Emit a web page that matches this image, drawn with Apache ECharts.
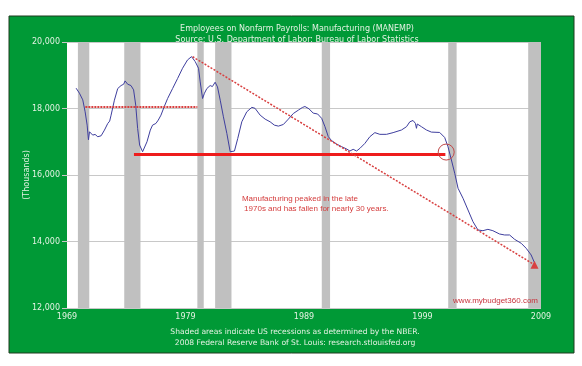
<!DOCTYPE html>
<html><head><meta charset="utf-8">
<script src="https://cdn.jsdelivr.net/npm/echarts@6/dist/echarts.min.js"></script>
<style>html,body{margin:0;padding:0;background:#fff}#c{width:582px;height:366px}</style>
</head><body><div id="c"></div>
<script>
// ---- data ----
const years = [1969.77,1970.05,1970.33,1970.53,1970.70,1970.81,1970.90,1971.00,1971.17,1971.37,1971.60,1971.88,1972.16,1972.44,1972.60,1972.72,1973.00,1973.28,1973.56,1973.78,1973.90,1974.12,1974.40,1974.62,1974.80,1974.96,1975.13,1975.38,1975.50,1975.75,1976.03,1976.22,1976.50,1976.70,1976.93,1977.20,1977.49,1977.91,1978.33,1978.75,1979.17,1979.51,1979.82,1980.10,1980.24,1980.44,1980.60,1980.80,1981.08,1981.27,1981.50,1981.70,1981.93,1982.20,1982.49,1982.77,1982.91,1983.13,1983.41,1983.75,1984.17,1984.60,1984.87,1985.30,1985.72,1986.14,1986.50,1986.84,1987.26,1987.68,1988.10,1988.52,1988.86,1989.08,1989.42,1989.78,1989.92,1990.15,1990.25,1990.49,1990.77,1991.05,1991.33,1991.75,1992.17,1992.60,1992.87,1993.15,1993.44,1993.72,1994.14,1994.56,1994.98,1995.40,1995.96,1996.52,1997.23,1997.65,1997.93,1998.20,1998.40,1998.49,1998.56,1998.91,1999.33,1999.75,2000.45,2000.87,2001.15,2001.44,2001.72,2002.00,2002.42,2002.84,2003.26,2003.68,2004.10,2004.52,2004.94,2005.50,2005.93,2006.35,2006.77,2007.33,2007.75,2008.17,2008.45];
const employees = [18610,18460,18260,17900,17500,17060,17300,17260,17200,17220,17150,17180,17350,17550,17620,17800,18250,18600,18690,18730,18830,18730,18690,18560,18100,17400,16900,16700,16720,17000,17350,17500,17550,17650,17800,18050,18300,18600,18900,19210,19460,19560,19410,19210,18800,18300,18460,18600,18690,18660,18790,18650,18250,17750,17250,16700,16680,16720,17100,17600,17900,18035,18005,17800,17680,17600,17500,17470,17520,17680,17850,17950,18030,18060,17990,17860,17874,17835,17874,17704,17453,17153,17033,16932,16852,16782,16722,16772,16722,16802,16952,17153,17274,17223,17223,17274,17354,17453,17600,17640,17554,17404,17534,17453,17354,17290,17280,17130,16852,16451,16051,15600,15299,14947,14596,14346,14325,14366,14325,14226,14196,14196,14066,13946,13795,13594,13362];
const recessionStart = [1969.92,1973.83,1980.00,1981.50,1990.50,2001.17,2007.92];
const recessionEnd   = [1970.88,1975.20,1980.54,1982.88,1991.20,2001.88,2009.00];
const xTicks = [1969,1979,1989,1999,2009];
const yTicks = [12000,14000,16000,18000,20000];
const peakStart = [1979.6,19558];
const trendEnd = [2008.45,13300];
const dottedLevel = {from:1970.55,to:1980.0,value:18045};
const floorLevel = {from:1974.65,to:2000.93,value:16620};
const circlePoint = [2001.0,16690];
const notePoint = [1983.8,15420];
const noteText = 'Manufacturing peaked in the late\n 1970s and has fallen for nearly 30 years.';
const titleLines = ['Employees on Nonfarm Payrolls: Manufacturing (MANEMP)','Source: U.S. Department of Labor: Bureau of Labor Statistics'];
const footLines = ['Shaded areas indicate US recessions as determined by the NBER.','2008 Federal Reserve Bank of St. Louis: research.stlouisfed.org'];
const yAxisName = '(Thousands)';
const watermark = 'www.mybudget360.com';

const seriesData = years.map((y,i)=>[y,employees[i]]);
const lightText = '#e3f2e3';
const chart = echarts.init(document.getElementById('c'), null, {renderer:'canvas'});
chart.setOption({
  animation:false,
  backgroundColor:'#fff',
  graphic:[
    {type:'rect', z:-10, shape:{x:9,y:16,width:565,height:337}, style:{fill:'#009936', stroke:'#1e3a1e', lineWidth:1}},
    {type:'text', z:10, right:44, top:297, style:{text:watermark, fill:'#c8323c', font:'8px "Liberation Sans", Arial, sans-serif'}}
  ],
  title:[
    {text:titleLines[0]+'\n'+titleLines[1], left:292, top:18, textAlign:'center',
     textStyle:{color:lightText, fontSize:8, fontWeight:'normal', fontFamily:'DejaVu Sans', lineHeight:11}},
    {text:footLines[0]+'\n'+footLines[1], left:290, top:322, textAlign:'center',
     textStyle:{color:lightText, fontSize:7.6, fontWeight:'normal', fontFamily:'DejaVu Sans', lineHeight:11}}
  ],
  grid:{left:67, right:41, top:42, bottom:58, show:true, backgroundColor:'#fff', borderWidth:0},
  xAxis:{type:'value', min:1969, max:2009, interval:10,
    axisLine:{show:false}, axisTick:{show:false}, splitLine:{show:false},
    axisLabel:{color:lightText, fontSize:8, fontFamily:'DejaVu Sans', margin:5,
      formatter:v=>xTicks.includes(v)?String(v):''}},
  yAxis:{type:'value', min:12000, max:20000, interval:2000,
    name:yAxisName, nameLocation:'middle', nameGap:40, nameRotate:90, nameMoveOverlap:false,
    nameTextStyle:{color:lightText, fontSize:8, fontFamily:'DejaVu Sans', verticalAlign:'middle'},
    axisLine:{show:false}, axisTick:{show:true, length:5, lineStyle:{color:'#c8c8c8'}},
    splitLine:{show:true, lineStyle:{color:'#c8c8c8', width:1}},
    axisLabel:{color:lightText, fontSize:8, fontFamily:'DejaVu Sans', margin:7,
      formatter:v=>yTicks.includes(v)?v.toLocaleString('en-US'):''}},
  series:[
    {type:'line', data:[], silent:true,
     markArea:{silent:true, itemStyle:{color:'#c0c0c0'},
       data:recessionStart.map((s,i)=>[{xAxis:s},{xAxis:recessionEnd[i]}])}},
    {type:'line', data:seriesData, showSymbol:false, symbol:'none', smooth:false,
     lineStyle:{color:'#3e3e9e', width:1}, z:3,
     markLine:{silent:true, symbol:['none','none'], label:{show:false},
       data:[
         [{coord:[dottedLevel.from,dottedLevel.value], lineStyle:{color:'#d84040', type:[2,1], width:2}},{coord:[dottedLevel.to,dottedLevel.value]}],
         [{coord:[floorLevel.from,floorLevel.value], lineStyle:{color:'#ee1c1c', type:'solid', width:3}},{coord:[floorLevel.to,floorLevel.value]}],
         [{coord:peakStart, symbol:'none', lineStyle:{color:'#d84040', type:[2,1.5], width:1.5}},{coord:trendEnd, symbol:'triangle', symbolSize:8, symbolRotate:0}]
       ]},
     markPoint:{silent:true,
       data:[
         {coord:circlePoint, symbol:'circle', symbolSize:16, itemStyle:{color:'rgba(0,0,0,0)', borderColor:'#c04848', borderWidth:1}, label:{show:false}},
         {coord:notePoint, symbol:'rect', symbolSize:1, itemStyle:{color:'rgba(0,0,0,0)'},
          label:{show:true, formatter:noteText, position:[0,0], align:'left', verticalAlign:'top',
            color:'#d43c3c', fontSize:8, lineHeight:10, fontFamily:'"Liberation Sans", Arial, sans-serif'}}
       ]}}
  ]
});
</script></body></html>
